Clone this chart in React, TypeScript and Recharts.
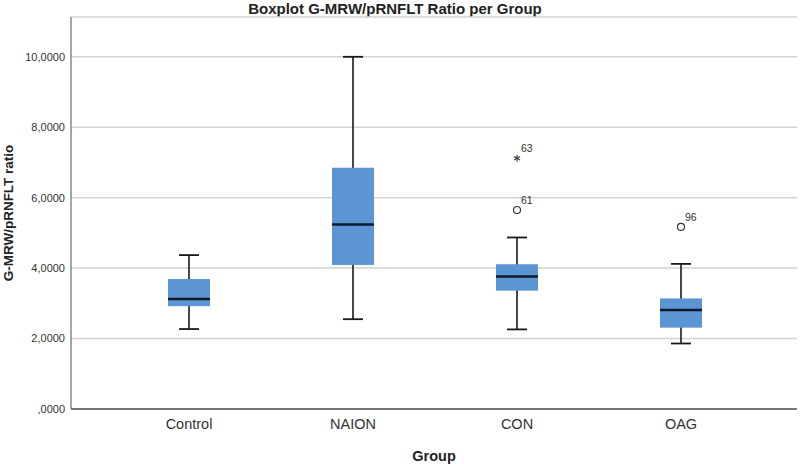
import React from 'react';
import { ComposedChart, Bar, Scatter, XAxis, YAxis, CartesianGrid } from 'recharts';

const groups = ['Control', 'NAION', 'CON', 'OAG'];
const whiskerLow = [2.27, 2.55, 2.26, 1.86];
const quartile1 = [2.92, 4.09, 3.36, 2.31];
const medians = [3.12, 5.24, 3.76, 2.81];
const quartile3 = [3.69, 6.85, 4.11, 3.14];
const whiskerHigh = [4.37, 10.0, 4.87, 4.12];

const outlierGroups = ['CON', 'CON', 'OAG'];
const outlierValues = [7.12, 5.65, 5.17];
const outlierIds = ['63', '61', '96'];
const outlierKinds = ['extreme', 'mild', 'mild'];

const yTicks = [0, 2, 4, 6, 8, 10];

const boxData = groups.map((g, i) => ({
  group: g,
  low: whiskerLow[i],
  q1: quartile1[i],
  median: medians[i],
  q3: quartile3[i],
  high: whiskerHigh[i],
}));

const outlierData = outlierGroups.map((g, i) => ({
  group: g,
  value: outlierValues[i],
  id: outlierIds[i],
  kind: outlierKinds[i],
}));

const FONT = '"Liberation Sans", Arial, sans-serif';
const BOX_BLUE = '#5b95d3';

// whiskers + box + median, positioned inside the [low, high] range bar
const BoxShape = (props: any) => {
  const { x, y, width, height, payload } = props;
  if (!payload || height == null) return null;
  const top = Math.min(y, y + height);
  const h = Math.abs(height);
  const span = payload.high - payload.low;
  const toY = (v: number) => top + (h * (payload.high - v)) / span;
  const cx = x + width / 2;
  const cap = 10;
  const yQ3 = toY(payload.q3);
  const yQ1 = toY(payload.q1);
  const yMed = toY(payload.median);
  return (
    <g>
      <line x1={cx} x2={cx} y1={top} y2={top + h} stroke="#1a1a1a" strokeWidth={1.6} />
      <line x1={cx - cap} x2={cx + cap} y1={top} y2={top} stroke="#1a1a1a" strokeWidth={1.8} />
      <line x1={cx - cap} x2={cx + cap} y1={top + h} y2={top + h} stroke="#1a1a1a" strokeWidth={1.8} />
      <rect x={x} y={yQ3} width={width} height={yQ1 - yQ3} fill={BOX_BLUE} />
      <line x1={x} x2={x + width} y1={yMed} y2={yMed} stroke="#0d1a2b" strokeWidth={2.5} />
    </g>
  );
};

const OutlierShape = (props: any) => {
  const { cx, cy, payload } = props;
  if (cx == null || cy == null || isNaN(cx) || isNaN(cy)) return null;
  const r = 3.5;
  return (
    <g>
      {payload.kind === 'extreme' ? (
        <g stroke="#333" strokeWidth={1.1}>
          <line x1={cx} x2={cx} y1={cy - r} y2={cy + r} />
          <line x1={cx - r * 0.87} x2={cx + r * 0.87} y1={cy - r / 2} y2={cy + r / 2} />
          <line x1={cx - r * 0.87} x2={cx + r * 0.87} y1={cy + r / 2} y2={cy - r / 2} />
        </g>
      ) : (
        <circle cx={cx} cy={cy} r={r} fill="#fff" stroke="#333" strokeWidth={1.2} />
      )}
      <text x={cx + 4} y={cy - 6} fontSize={10.5} fontFamily={FONT} fill="#333">
        {payload.id}
      </text>
    </g>
  );
};

const YTitle = (props: any) => {
  const { viewBox } = props;
  const cy = viewBox.y + viewBox.height / 2;
  return (
    <text
      x={8}
      y={cy}
      transform={`rotate(-90, 8, ${cy})`}
      textAnchor="middle"
      dominantBaseline="central"
      fontSize={13.5}
      fontWeight="bold"
      fontFamily={FONT}
      fill="#222"
    >
      G-MRW/pRNFLT ratio
    </text>
  );
};

const App: React.FC = () => {
  return (
    <div style={{ position: 'absolute', left: 0, top: 0, width: 800, height: 464, background: '#fff' }}>
      <div
        style={{
          position: 'absolute',
          left: 0,
          top: 0,
          width: 790,
          textAlign: 'center',
          fontFamily: FONT,
          fontWeight: 'bold',
          fontSize: 15,
          lineHeight: '17px',
          color: '#222',
        }}
      >
        Boxplot G-MRW/pRNFLT Ratio per Group
      </div>
      <ComposedChart
        width={800}
        height={464}
        data={boxData}
        margin={{ top: 17, right: 3, left: 0, bottom: 0 }}
      >
        <CartesianGrid vertical={false} stroke="#d2d2d2" strokeWidth={1.5} />
        <XAxis
          dataKey="group"
          type="category"
          allowDuplicatedCategory={false}
          height={55}
          padding={{ left: 36, right: 34 }}
          tickLine={false}
          tickMargin={4}
          axisLine={{ stroke: '#555', strokeWidth: 1.5 }}
          tick={{ fontSize: 14.5, fill: '#333', fontFamily: FONT }}
          label={{
            value: 'Group',
            position: 'insideBottom',
            offset: 3,
            style: { fontSize: 14.5, fontWeight: 'bold', fill: '#222', fontFamily: FONT },
          }}
        />
        <YAxis
          type="number"
          domain={[0, 11.13]}
          ticks={yTicks}
          width={71}
          tickLine={false}
          tickMargin={0}
          axisLine={{ stroke: '#888', strokeWidth: 1.5 }}
          tick={{ fontSize: 11, fill: '#333', fontFamily: FONT }}
          tickFormatter={(v: number) => (v === 0 ? ',0000' : `${v},0000`)}
          label={{ content: YTitle }}
        />
        <Bar
          dataKey={(d: any) => [d.low, d.high]}
          barSize={42}
          shape={BoxShape}
          isAnimationActive={false}
        />
        <Scatter
          data={outlierData}
          dataKey="value"
          shape={OutlierShape}
          isAnimationActive={false}
        />
      </ComposedChart>
    </div>
  );
};

export default App;
